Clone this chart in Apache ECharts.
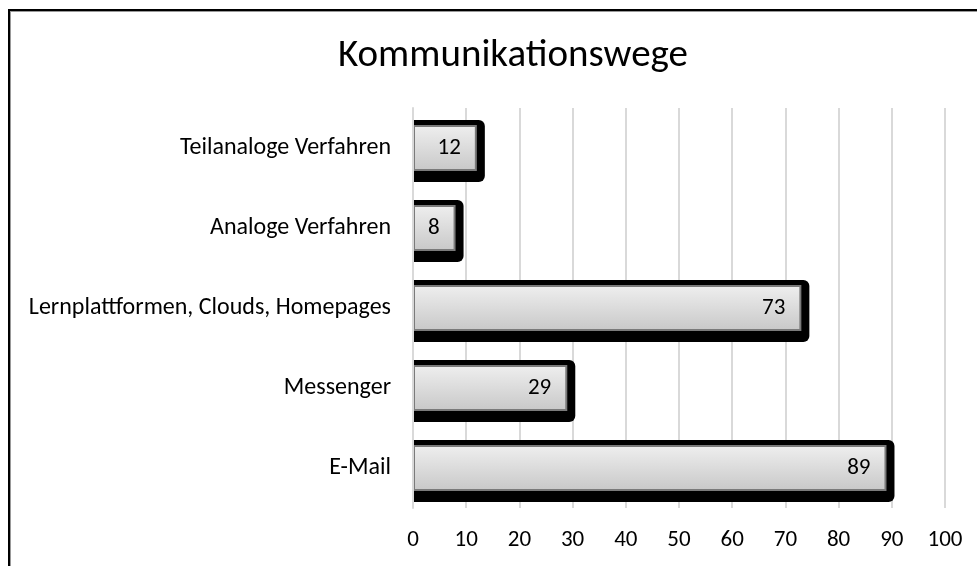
<!DOCTYPE html>
<html>
<head>
<meta charset="utf-8">
<script src="https://cdn.jsdelivr.net/npm/echarts@6/dist/echarts.min.js"></script>
<style>
  html, body { margin: 0; padding: 0; background: #fff; }
  #frame {
    position: absolute; left: 8px; top: 9px; width: 990px; height: 600px;
    border-top: 2px solid #000; border-left: 2px solid #000;
    box-shadow: inset 1px 1px 0 #999;
  }
  #chart { position: absolute; left: 0; top: 0; width: 977px; height: 566px; }
</style>
</head>
<body>
<div id="frame"></div>
<div id="chart"></div>
<script>
// Kategorien von unten nach oben
const categories = ["E-Mail", "Messenger", "Lernplattformen, Clouds, Homepages", "Analoge Verfahren", "Teilanaloge Verfahren"];
const values = [89, 29, 73, 8, 12];
const xTicks = { min: 0, max: 100, interval: 10 };

const font = "Carlito, Calibri, 'Liberation Sans', sans-serif";

const chart = echarts.init(document.getElementById("chart"));

chart.setOption({
  animation: false,
  title: {
    text: "Kommunikationswege",
    left: 333,
    top: 32,
    textStyle: { fontFamily: font, fontSize: 39, fontWeight: "normal", color: "#000" },
  },
  grid: [
    { left: 413, right: 32, top: 108, bottom: 58 },
    // zweites Raster, 3px tiefer, für den Schattenkörper
    { left: 413, right: 32, top: 111, bottom: 55 },
  ],
  xAxis: [
    {
      type: "value",
      gridIndex: 0,
      min: xTicks.min,
      max: xTicks.max,
      interval: xTicks.interval,
      axisLine: { show: false },
      axisTick: { show: false },
      axisLabel: { fontFamily: font, fontSize: 23, color: "#000", margin: 21 },
      splitLine: { lineStyle: { color: "#d9d9d9", width: 2 } },
    },
    {
      type: "value",
      gridIndex: 1,
      min: xTicks.min,
      max: xTicks.max,
      show: false,
    },
  ],
  yAxis: [
    {
      type: "category",
      gridIndex: 0,
      data: categories,
      axisLine: { lineStyle: { color: "#d9d9d9", width: 2 } },
      axisTick: { show: false },
      axisLabel: { fontFamily: font, fontSize: 24, color: "#000", margin: 22 },
      z: 5,
    },
    {
      type: "category",
      gridIndex: 1,
      data: categories,
      show: false,
    },
  ],
  series: [
    {
      // schwarzer Schattenkörper hinter dem Balken
      type: "bar",
      xAxisIndex: 1,
      yAxisIndex: 1,
      data: values,
      barWidth: 62,
      silent: true,
      z: 1,
      itemStyle: {
        color: "#000",
        borderRadius: [0, 6, 6, 0],
        shadowColor: "#000",
        shadowBlur: 0,
        shadowOffsetX: 8,
        shadowOffsetY: 0,
      },
    },
    {
      type: "bar",
      xAxisIndex: 0,
      yAxisIndex: 0,
      data: values,
      barWidth: 46,
      z: 3,
      itemStyle: {
        color: {
          type: "linear", x: 0, y: 0, x2: 0, y2: 1,
          colorStops: [
            { offset: 0, color: "#efefef" },
            { offset: 1, color: "#c8c8c8" },
          ],
        },
        borderColor: "#7a7a7a",
        borderWidth: 2,
      },
      label: {
        show: true,
        position: "insideRight",
        distance: 16,
        fontFamily: font,
        fontSize: 23,
        color: "#000",
      },
    },
  ],
});
</script>
</body>
</html>
